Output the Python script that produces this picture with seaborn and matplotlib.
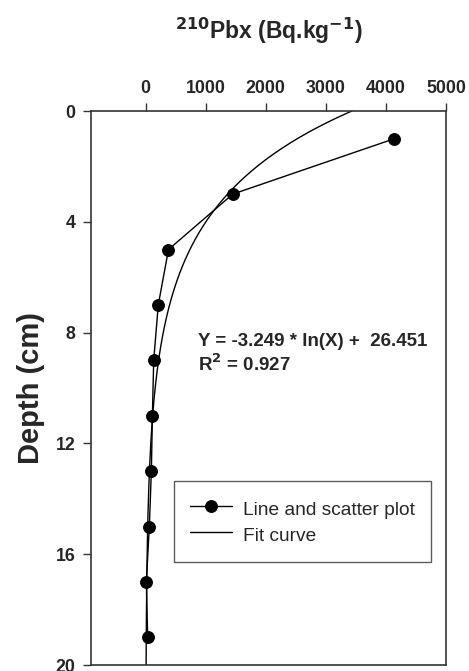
import numpy as np
import pandas as pd
import matplotlib
matplotlib.use("Agg")
import matplotlib.pyplot as plt
import seaborn as sns

# ---- data ----
depth = [1, 3, 5, 7, 9, 11, 13, 15, 17, 19]
pbx = [4140, 1450, 380, 210, 134, 112, 95, 61, 11, 34]
fit_a = -3.249
fit_b = 26.451
x_ticks = [0, 1000, 2000, 3000, 4000, 5000]
y_ticks = [0, 4, 8, 12, 16, 20]

sns.set_theme(style="white")
plt.rcParams['font.family'] = ['Liberation Sans', 'DejaVu Sans']

fig = plt.figure(figsize=(4.69, 6.71), dpi=100)
ax = fig.add_axes([91/469, 1 - 665/671, (446-91)/469, (665-111)/671])

df = pd.DataFrame({"pbx": pbx, "depth": depth})
fit_depth = np.linspace(0, 20, 400)
fit_x = np.exp((fit_b - fit_depth) / (-fit_a))
df_fit = pd.DataFrame({"x": fit_x, "depth": fit_depth})

sns.lineplot(data=df, x="pbx", y="depth", sort=False, marker="o", markersize=8.5,
             color="black", linewidth=1.0, markeredgecolor="black", ax=ax,
             label="Line and scatter plot")
sns.lineplot(data=df_fit, x="x", y="depth", sort=False, color="black",
             linewidth=1.0, ax=ax, label="Fit curve")

ax.set_xlim(-910, 5000)
ax.set_ylim(20, 0)
ax.xaxis.tick_top()
ax.xaxis.set_label_position("top")
ax.set_xticks(x_ticks)
ax.set_yticks(y_ticks)
ax.set_xticklabels([str(v) for v in x_ticks], fontweight="bold", fontsize=12.8)
ax.set_yticklabels([str(v) for v in y_ticks], fontweight="bold", fontsize=12.8)
ax.tick_params(axis="x", top=True, bottom=False, direction="out", length=6,
               width=1, color="#333333", pad=4)
ax.tick_params(axis="y", left=True, right=False, direction="out", length=6,
               width=1, color="#333333", pad=5)
for s in ax.spines.values():
    s.set_color("#333333")
    s.set_linewidth(1.2)

ax.set_xlabel(r"$\mathbf{^{210}}$Pbx (Bq.kg$\mathbf{^{-1}}$)", fontsize=16.5,
              fontweight="bold", labelpad=30)
ax.set_ylabel("Depth (cm)", fontsize=21, fontweight="bold", labelpad=8)

ax.text((198-91)/355, (665-342)/554, "Y = -3.249 * ln(X) +  26.451",
        transform=ax.transAxes, fontsize=13.5, fontweight="bold",
        va="center", ha="left")
ax.text((198-91)/355, (665-364)/554, r"R$\mathbf{^{2}}$ = 0.927",
        transform=ax.transAxes, fontsize=13.5, fontweight="bold",
        va="center", ha="left")

leg = ax.legend(loc="upper left", bbox_to_anchor=((174-91)/355, (665-481)/554),
                frameon=True, fancybox=False, edgecolor="#333333", fontsize=13.8,
                handlelength=2.2, handleheight=1.4, borderpad=0.85,
                labelspacing=0.2, handletextpad=0.55, borderaxespad=0)
leg.get_frame().set_linewidth(1.0)

fig.savefig("out.png", dpi=100)
